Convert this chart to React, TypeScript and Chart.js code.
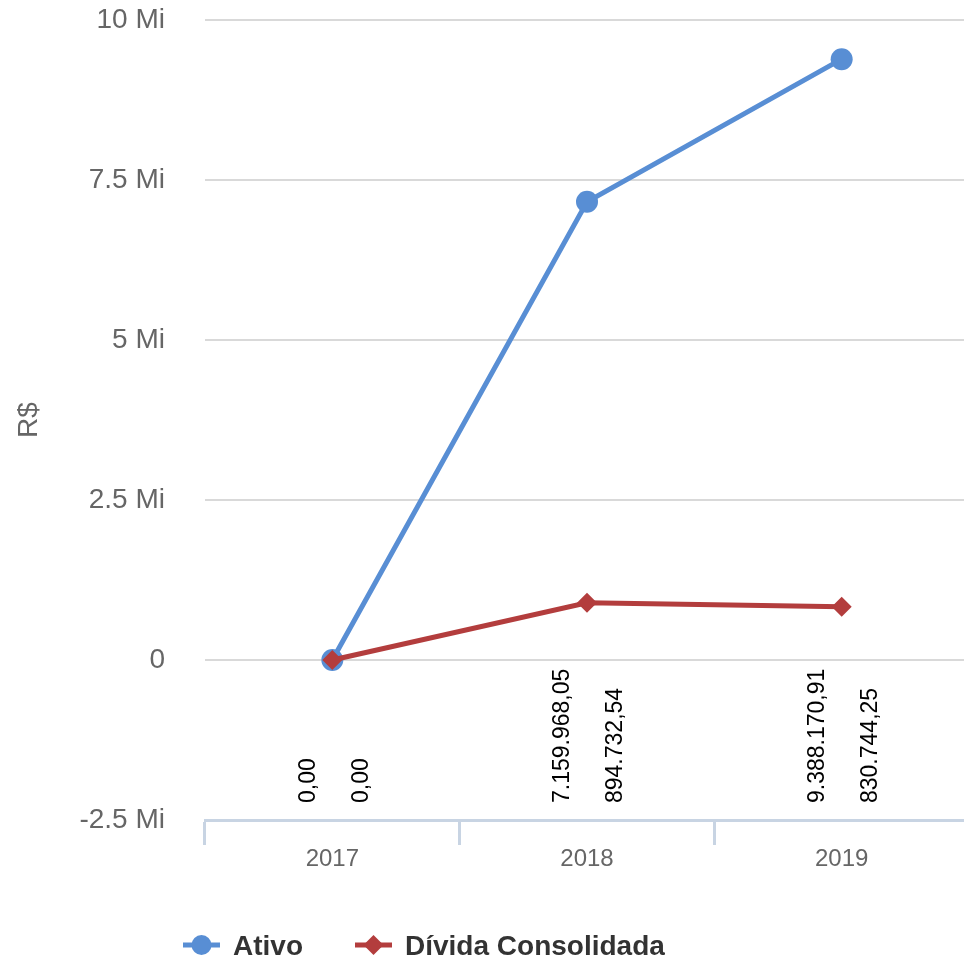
import { useEffect, useRef } from 'react';
import { Chart, registerables } from 'chart.js';

Chart.register(...registerables);

const years = ['2017', '2018', '2019'];
const ativo = [0, 7159968.05, 9388170.91];
const divida = [0, 894732.54, 830744.25];
const yTickValues = [-2500000, 0, 2500000, 5000000, 7500000, 10000000];
const seriesNames = ['Ativo', 'Dívida Consolidada'];
const seriesColors = ['#588ed4', '#b33d3d'];
const yTitle = 'R$';

const FONT = '"Liberation Sans", Arial, sans-serif';

function fmtBR(v: number): string {
  const [i, d] = v.toFixed(2).split('.');
  return i.replace(/\B(?=(\d{3})+(?!\d))/g, '.') + ',' + d;
}

function yLabel(v: number): string {
  if (v === 0) return '0';
  return v / 1e6 + ' Mi';
}

const labelPlugin = {
  id: 'valueLabels',
  afterDatasetsDraw(chart: any) {
    const ctx = chart.ctx;
    const offsets = [-24, 29];
    const bottom = chart.chartArea.bottom - 17;
    ctx.save();
    ctx.font = `23px ${FONT}`;
    ctx.fillStyle = '#000';
    ctx.textAlign = 'left';
    ctx.textBaseline = 'middle';
    chart.data.datasets.forEach((ds: any, di: number) => {
      const meta = chart.getDatasetMeta(di);
      meta.data.forEach((pt: any, j: number) => {
        ctx.save();
        ctx.translate(pt.x + offsets[di], bottom);
        ctx.rotate(-Math.PI / 2);
        ctx.fillText(fmtBR(ds.data[j]), 0, 0);
        ctx.restore();
      });
    });
    ctx.restore();
  },
};

const legendPlugin = {
  id: 'customLegend',
  afterDraw(chart: any) {
    const ctx = chart.ctx;
    const y = 945;
    let x = 183;
    ctx.save();
    ctx.font = `bold 28px ${FONT}`;
    ctx.textBaseline = 'middle';
    ctx.textAlign = 'left';
    seriesNames.forEach((name, i) => {
      const color = seriesColors[i];
      ctx.strokeStyle = color;
      ctx.fillStyle = color;
      ctx.lineWidth = 5;
      ctx.beginPath();
      ctx.moveTo(x, y);
      ctx.lineTo(x + 37, y);
      ctx.stroke();
      const cx = x + 18.5;
      ctx.beginPath();
      if (i === 0) {
        ctx.arc(cx, y, 10, 0, Math.PI * 2);
      } else {
        ctx.moveTo(cx, y - 10);
        ctx.lineTo(cx + 10, y);
        ctx.lineTo(cx, y + 10);
        ctx.lineTo(cx - 10, y);
        ctx.closePath();
      }
      ctx.fill();
      ctx.fillStyle = '#333';
      const tx = x + 50;
      ctx.fillText(name, tx, y + 2);
      x = tx + ctx.measureText(name).width + 52;
    });
    ctx.restore();
  },
};

export default function App() {
  const ref = useRef<HTMLCanvasElement | null>(null);
  useEffect(() => {
    if (!ref.current) return;
    const chart = new Chart(ref.current, {
      type: 'line',
      data: {
        labels: years,
        datasets: [
          {
            label: seriesNames[0],
            data: ativo,
            borderColor: seriesColors[0],
            backgroundColor: seriesColors[0],
            pointBackgroundColor: seriesColors[0],
            pointBorderWidth: 0,
            pointRadius: 11,
            pointStyle: 'circle',
            borderWidth: 5,
            tension: 0,
            order: 1,
          },
          {
            label: seriesNames[1],
            data: divida,
            borderColor: seriesColors[1],
            backgroundColor: seriesColors[1],
            pointBackgroundColor: seriesColors[1],
            pointBorderWidth: 0,
            pointRadius: 10,
            pointStyle: 'rectRot',
            borderWidth: 5,
            tension: 0,
            order: 0,
          },
        ],
      },
      options: {
        responsive: false,
        animation: false,
        layout: { padding: 0 },
        plugins: {
          legend: { display: false },
          tooltip: { enabled: false },
        },
        scales: {
          x: {
            offset: true,
            grid: {
              offset: true,
              drawOnChartArea: false,
              drawTicks: true,
              tickLength: 25,
              color: '#c8d4e3',
              lineWidth: 3,
            },
            border: { display: true, color: '#c8d4e3', width: 3 },
            ticks: {
              color: '#666',
              font: { family: FONT, size: 24 },
              padding: 0,
            },
            afterFit(scale: any) {
              scale.height = 144;
              scale.paddingLeft = 0;
              scale.paddingRight = 0;
            },
          },
          y: {
            min: -2500000,
            max: 10000000,
            afterBuildTicks(scale: any) {
              scale.ticks = yTickValues.map((v) => ({ value: v }));
            },
            grid: { color: '#d9d9d9', lineWidth: 2, drawTicks: false },
            border: { display: false },
            ticks: {
              color: '#666',
              font: { family: FONT, size: 28 },
              padding: 40,
              callback: (v: any) => yLabel(Number(v)),
            },
            title: {
              display: true,
              text: yTitle,
              color: '#666',
              font: { family: FONT, size: 28 },
              padding: { top: 12, bottom: 0 },
            },
            afterFit(scale: any) {
              scale.width = 205;
              scale.paddingTop = 20;
              scale.paddingBottom = 0;
            },
          },
        },
      },
      plugins: [labelPlugin, legendPlugin],
    } as any);
    return () => chart.destroy();
  }, []);
  return (
    <div style={{ position: 'fixed', left: 0, top: 0, width: 980, height: 964, overflow: 'hidden', background: '#fff' }}>
      <canvas ref={ref} width={980} height={964} style={{ display: 'block' }} />
    </div>
  );
}
